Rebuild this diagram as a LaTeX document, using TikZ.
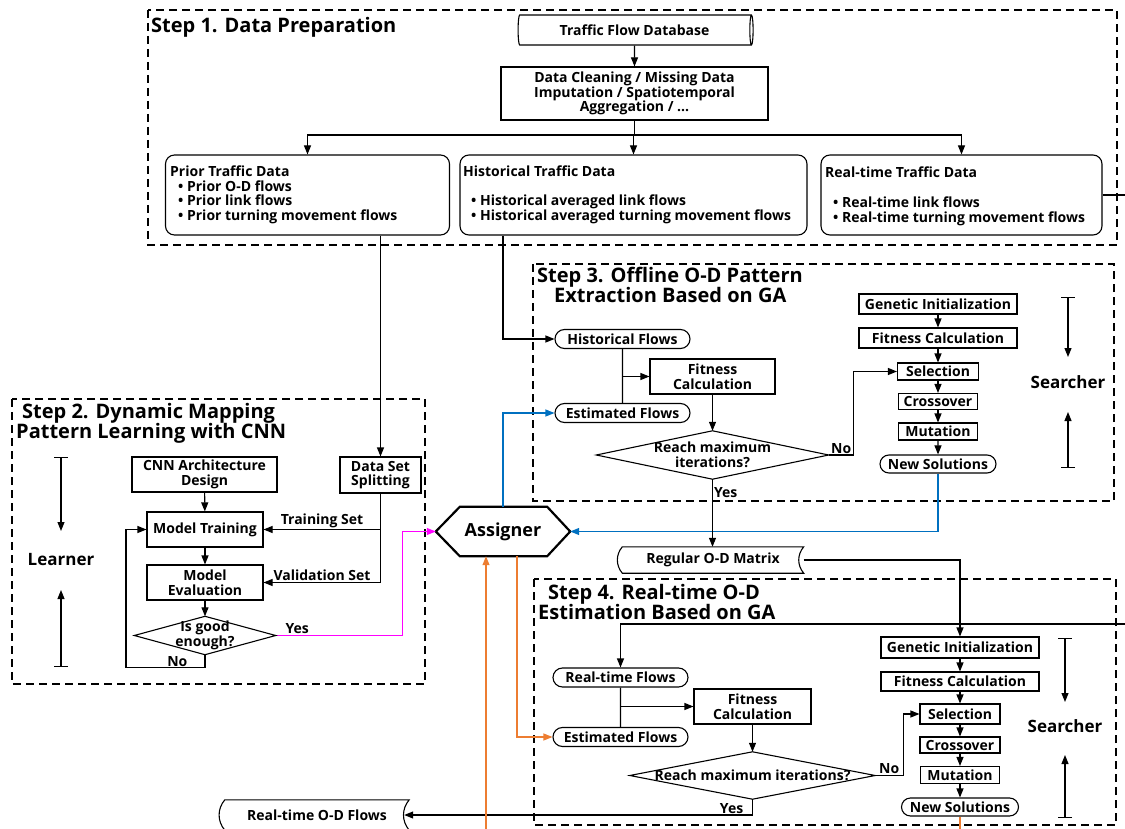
\documentclass[tikz,border=0pt]{standalone}
\usepackage{fontspec}
\setmainfont{Open Sans}
\usepackage{xcolor}
\usetikzlibrary{arrows.meta,shapes.misc,shapes.geometric,positioning}

\definecolor{asblue}{RGB}{0,112,192}
\definecolor{asorange}{RGB}{237,125,49}
\definecolor{asmagenta}{RGB}{255,0,255}

\tikzset{
  txt/.style={font=\bfseries\fontsize{14}{14.5}\selectfont, align=center, inner sep=0pt},
  box/.style={txt, draw, line width=1.1pt},
  rbox/.style={draw, line width=1.1pt, rounded corners=9pt, minimum height=80pt},
  capsule/.style={txt, draw, line width=1.1pt, rounded rectangle, minimum width=135pt, minimum height=19pt},
  side/.style={font=\bfseries\fontsize{17}{18}\selectfont, inner sep=0pt},
  lbl/.style={font=\bfseries\fontsize{14}{14.5}\selectfont, inner sep=1pt},
  stepframe/.style={line width=1.7pt, dash pattern=on 8pt off 5pt},
  steptitle/.style={font=\bfseries\fontsize{20}{20}\selectfont, align=left, anchor=north west, inner sep=0pt},
  ln/.style={line width=1.1pt},
  ar/.style={ln, -{Triangle[length=9pt,width=7pt]}},
  ibar/.style={ln, {Bar[width=14pt]}-{Triangle[length=9pt,width=7pt]}},
}

\begin{document}
\begin{tikzpicture}[x=1pt,y=-1pt]
\useasboundingbox (0,0) rectangle (1125,829);

% step 1
\draw[stepframe] (148,10) rectangle (1117,245);
\node[steptitle] (t1) at (151,17) {Step 1. Data Preparation};
\node[txt, cylinder, draw, line width=1.1pt, aspect=0.3, minimum width=30pt, minimum height=235pt] (db) at (634.5,30) {Traffic Flow Database};
\node[box, minimum width=267pt, minimum height=53pt] (clean) at (634.5,93.5) {Data Cleaning / Missing Data\\Imputation / Spatiotemporal\\Aggregation / ...};
\node[rbox, minimum width=284pt] (prior) at (307.5,195) {};
\node[rbox, minimum width=347pt] (hist) at (633.5,195) {};
\node[rbox, minimum width=281pt] (rt) at (961.5,195) {};
\node[txt, align=left, anchor=west] (priorT) at (170,195) {Prior Traffic Data\\
  \hspace{8pt}\textbullet\ Prior O-D flows\\
  \hspace{8pt}\textbullet\ Prior link flows\\
  \hspace{8pt}\textbullet\ Prior turning movement flows};
\node[txt, align=left, anchor=west] (histT) at (463,195) {Historical Traffic Data\\[14.5pt]
  \hspace{8pt}\textbullet\ Historical averaged link flows\\
  \hspace{8pt}\textbullet\ Historical averaged turning movement flows};
\node[txt, align=left, anchor=west] (rtT) at (825,196) {Real-time Traffic Data\\[16pt]
  \hspace{8pt}\textbullet\ Real-time link flows\\
  \hspace{8pt}\textbullet\ Real-time turning movement flows};
\coordinate (br) at (634.5,135);
\coordinate (rtout) at (1125,195);
\draw[ar] (db) -- (clean);
\draw[ln] (clean) -- (br);
\foreach \b in {prior,hist,rt}
  \draw[ar] (br) -| (\b.north);
\draw[ln] (rt.east) -- (rtout);

% step 3
\draw[stepframe] (533,264) rectangle (1114,501);
\node[steptitle] (t3) at (537,267) {Step 3. Offline O-D Pattern\\\hspace{17pt}Extraction Based on GA};
\node[capsule] (hf) at (622.5,339) {Historical Flows};
\node[capsule] (ef3) at (622.5,413) {Estimated Flows};
\node[box, minimum width=125pt, minimum height=35pt] (fc3) at (712.5,376.5) {Fitness\\Calculation};
\node[txt, minimum width=232pt, minimum height=48pt] (d3) at (712.5,455) {Reach maximum\\iterations?};
\node[box, minimum width=158pt, minimum height=20pt] (gi3) at (938,304) {Genetic Initialization};
\node[box, minimum width=158pt, minimum height=20pt] (fr3) at (938,338) {Fitness Calculation};
\node[box, minimum width=81pt, minimum height=17pt] (se3) at (938,371.5) {Selection};
\node[box, minimum width=79pt, minimum height=16pt] (cr3) at (938,401.5) {Crossover};
\node[box, minimum width=79pt, minimum height=17pt] (mu3) at (938,431.5) {Mutation};
\node[capsule, minimum width=116pt, minimum height=18pt] (ns3) at (938,464) {New Solutions};
\node[side] (sr3) at (1068,382) {Searcher};
\draw[ibar] ([yshift=85pt]sr3.center) -- ([yshift=25pt]sr3.center);
\draw[ibar] ([yshift=-86pt]sr3.center) -- ([yshift=-30pt]sr3.center);
\draw[ar] ([xshift=-130.5pt]hist.south) |- (hf.west);
\draw[ln] (hf) -- (ef3);
\draw[ar] (hf |- fc3) -- (fc3.west);
\draw[ar] (fc3) -- (d3.north);
\draw[ar] (d3.east) -- ++(25,0) node[lbl, above, midway] (no3) {No} |- (se3.west);
\draw[ar] (gi3) -- (fr3);
\draw[ar] (fr3) -- (se3);
\draw[ar] (se3) -- (cr3);
\draw[ar] (cr3) -- (mu3);
\draw[ar] (mu3) -- (ns3);

% step 2
\draw[stepframe] (12,399) rectangle (425,684);
\node[steptitle] (t2) at (16,403) {\hspace{6pt}Step 2. Dynamic Mapping\\Pattern Learning with CNN};
\node[box, minimum width=145pt, minimum height=35pt] (cnn) at (204.5,474.5) {CNN Architecture\\Design};
\node[box, minimum width=116pt, minimum height=35pt] (mt) at (205,529.5) {Model Training};
\node[box, minimum width=116pt, minimum height=35pt] (me) at (205,582.5) {Model\\Evaluation};
\node[txt, minimum width=141pt, minimum height=38pt] (d2) at (205,635.5) {Is good\\enough?};
\node[box, minimum width=81pt, minimum height=36pt] (dss) at (380.5,475) {Data Set\\Splitting};
\node[side] (lrn) at (61,560) {Learner};
\draw[ibar] ([yshift=103pt]lrn.center) -- ([yshift=29pt]lrn.center);
\draw[ibar] ([yshift=-107pt]lrn.center) -- ([yshift=-30pt]lrn.center);
\draw[ar] (prior.south -| dss.north) -- (dss.north);
\draw[ar] (cnn) -- (mt);
\draw[ar] (mt) -- (me);
\draw[ar] (me) -- (d2.north);
\draw[ar] (d2.south) -- ++(0,13) -- node[lbl, above, pos=0.35] (no2) {No} ++(-79,0) |- (mt.west);
\draw[ar] (dss.south) |- node[lbl, above, pos=0.75] (trs) {Training Set} (mt.east);
\draw[ar] (dss.south) |- node[lbl, above, pos=0.75] (vas) {Validation Set} (me.east);

% assigner
\node[font=\bfseries\fontsize{18}{20}\selectfont, inner sep=0pt, minimum width=134pt, minimum height=49pt] (asg) at (503,531.5) {Assigner};
\draw[line width=2.2pt] (asg.west) -- ([xshift=24pt]asg.north west) -- ([xshift=-23pt]asg.north east) -- (asg.east) -- ([xshift=-23pt]asg.south east) -- ([xshift=24pt]asg.south west) -- cycle;
\draw[ar, asmagenta] (d2.east) -- node[lbl, above, pos=0.17, text=black] (yes2) {Yes} ++(127,0) |- (asg.west);
\draw[ar, asblue] (ns3.south) |- (asg.east);
\draw[ar, asblue] (asg.north) |- (ef3.west);

% step 4
\draw[stepframe] (534,579) rectangle (1116,825);
\node[steptitle] (t4) at (538,584) {\hspace{10pt}Step 4. Real-time O-D\\Estimation Based on GA};
\node[txt, minimum width=181pt, minimum height=26pt] (rod) at (713,560) {Regular O-D Matrix};
\node[txt, minimum width=184pt, minimum height=30pt] (rodf) at (317,815) {Real-time O-D Flows};
\node[capsule] (rtf) at (620.5,677.5) {Real-time Flows};
\node[capsule] (ef4) at (620.5,737) {Estimated Flows};
\node[box, minimum width=117pt, minimum height=35pt] (fc4) at (752.5,706.5) {Fitness\\Calculation};
\node[txt, minimum width=245pt, minimum height=47pt] (d4) at (752.5,775.5) {Reach maximum iterations?};
\node[box, minimum width=158pt, minimum height=21pt] (gi4) at (960,647.5) {Genetic Initialization};
\node[box, minimum width=158pt, minimum height=19pt] (fr4) at (960,681.5) {Fitness Calculation};
\node[box, minimum width=80pt, minimum height=20pt] (se4) at (960,714) {Selection};
\node[box, minimum width=80pt, minimum height=16pt] (cr4) at (960,745) {Crossover};
\node[box, minimum width=79pt, minimum height=17pt] (mu4) at (960,775) {Mutation};
\node[capsule, minimum width=117pt, minimum height=18pt] (ns4) at (960,807) {New Solutions};
\node[side] (sr4) at (1065,726) {Searcher};
\draw[ibar] ([yshift=88pt]sr4.center) -- ([yshift=24pt]sr4.center);
\draw[ibar] ([yshift=-92pt]sr4.center) -- ([yshift=-29pt]sr4.center);
\coordinate (rtin) at (1125,624);
\coordinate (obot) at (486,829);
\coordinate (obot2) at (960,829);
\draw[ar] (d3.south) -- node[lbl, right, pos=0.2] (yes3) {Yes} (d3.south |- rod.north);
\draw[ar] (rod.east) -| (gi4.north);
\draw[ar] (rtin) -| (rtf.north);
\draw[ln] (rtf) -- (ef4);
\draw[ar] (rtf |- fc4) -- (fc4.west);
\draw[ar] (fc4) -- (d4.north);
\draw[ar] (d4.east) -- ++(28,0) node[lbl, above, midway] (no4) {No} |- (se4.west);
\draw[ar] (d4.south) |- node[lbl, above, pos=0.53] (yes4) {Yes} ([xshift=-5pt]rodf.east);
\draw[ar] (gi4) -- (fr4);
\draw[ar] (fr4) -- (se4);
\draw[ar] (se4) -- (cr4);
\draw[ar] (cr4) -- (mu4);
\draw[ar] (mu4) -- (ns4);
\draw[ar, asorange] ([xshift=14pt]asg.south) |- (ef4.west);
\draw[ar, asorange] (obot) -- (obot |- asg.south);
\draw[ln, asorange] (ns4.south) -- (obot2);

% diamonds and tapes
\foreach \d in {d2,d3,d4}
  \draw[ln] (\d.north) -- (\d.east) -- (\d.south) -- (\d.west) -- cycle;
\foreach \t in {rod,rodf}
  \draw[ln] (\t.north west) to[bend right=40] (\t.south west) -- (\t.south east) to[bend left=40] (\t.north east) -- cycle;
\end{tikzpicture}
\end{document}
